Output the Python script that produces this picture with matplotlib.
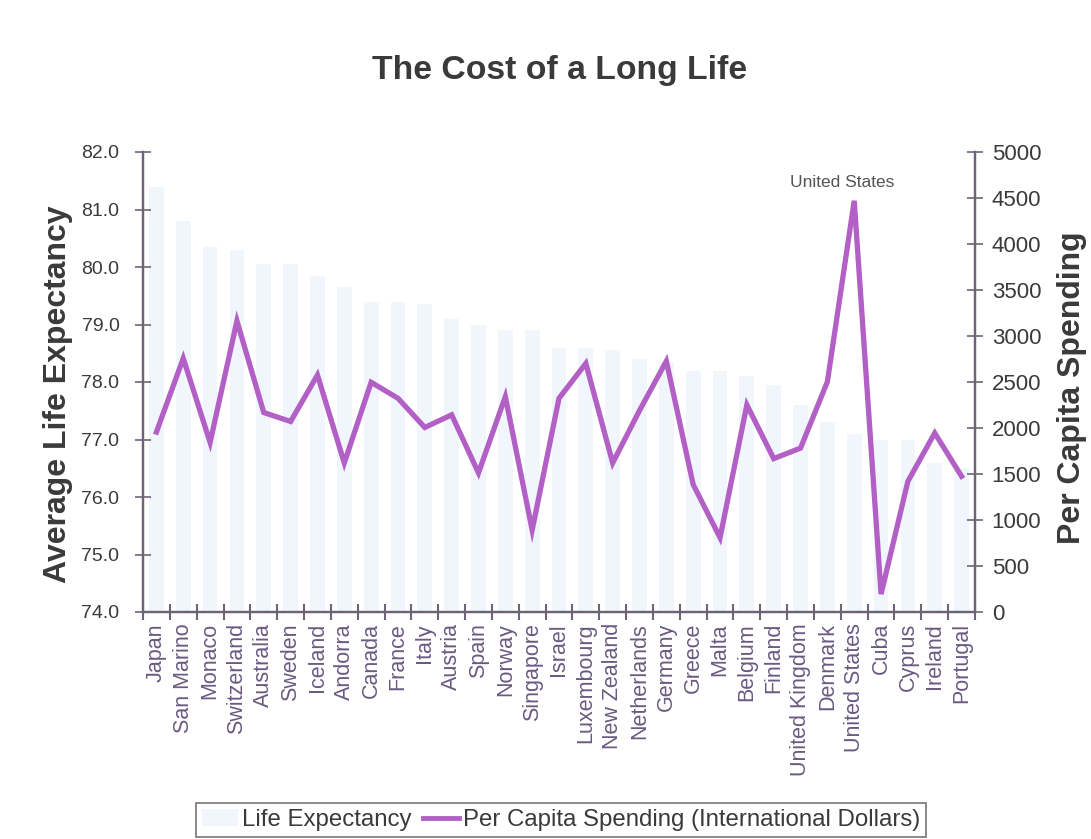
import matplotlib
matplotlib.use("Agg")
import matplotlib.pyplot as plt
from matplotlib.patches import Patch
from matplotlib.lines import Line2D

plt.rcParams["font.family"] = ["Liberation Sans", "DejaVu Sans"]

countries = ["Japan", "San Marino", "Monaco", "Switzerland", "Australia", "Sweden",
             "Iceland", "Andorra", "Canada", "France", "Italy", "Austria", "Spain",
             "Norway", "Singapore", "Israel", "Luxembourg", "New Zealand", "Netherlands",
             "Germany", "Greece", "Malta", "Belgium", "Finland", "United Kingdom",
             "Denmark", "United States", "Cuba", "Cyprus", "Ireland", "Portugal"]
life_expectancy = [81.4, 80.8, 80.35, 80.3, 80.05, 80.05, 79.85, 79.65, 79.4, 79.4,
                   79.35, 79.1, 79.0, 78.9, 78.9, 78.6, 78.6, 78.55, 78.4, 78.35,
                   78.2, 78.2, 78.1, 77.95, 77.6, 77.3, 77.1, 77.0, 77.0, 76.6, 76.5]
spending = [1956, 2757, 1843, 3164, 2168, 2071, 2576, 1620, 2497, 2323,
            2006, 2143, 1512, 2341, 891, 2323, 2702, 1620, 2190, 2727,
            1385, 808, 2251, 1667, 1782, 2503, 4470, 195, 1421, 1945, 1475]

W, H, DPI = 1091, 839, 100
fig = plt.figure(figsize=(W / DPI, H / DPI), dpi=DPI)
fig.patch.set_facecolor("white")
ax = fig.add_axes([143 / W, 1 - 612 / H, (975 - 143) / W, (612 - 152) / H])
ax2 = ax.twinx()

axis_col = "#6e6478"
text_col = "#3a3a3a"
label_col = "#6a5a82"
bar_col = "#f1f5fc"
line_col = "#b25fc6"

x = list(range(len(countries)))
ax.bar(x, life_expectancy, width=0.55, color=bar_col, zorder=1)
ax.set_ylim(74, 82)
ax.set_xlim(-0.5, len(countries) - 0.5)
ax.set_yticks([74 + i for i in range(9)])
ax.set_yticklabels([f"{74 + i:.1f}" for i in range(9)], fontsize=14, color=text_col)
ax.set_xticks(x)
ax.set_xticklabels(countries, rotation=90, fontsize=15.5, color=label_col)
ax.set_xticks([i + 0.5 for i in range(-1, len(countries))], minor=True)
ax.tick_params(axis="x", which="major", length=0, pad=8)
ax.tick_params(axis="x", which="minor", length=12, direction="inout", color=axis_col, width=1.5)
ax.tick_params(axis="y", length=12, direction="inout", color=axis_col, width=1.2, pad=11)
ax.set_ylabel("Average Life Expectancy", fontsize=23, fontweight="bold", color=text_col)
ax.yaxis.set_label_coords(-0.084, 0.473)

ax2.plot(x, spending, color=line_col, lw=3.8, zorder=3, solid_joinstyle="miter")
ax2.set_ylim(0, 5000)
ax2.set_yticks(range(0, 5001, 500))
ax2.set_yticklabels([str(v) for v in range(0, 5001, 500)], fontsize=16, color=text_col)
ax2.tick_params(axis="y", length=12, direction="inout", color=axis_col, width=1.2, pad=6)
ax2.set_ylabel("Per Capita Spending", fontsize=23, fontweight="bold", color=text_col)
ax2.yaxis.set_label_coords(1.099, 0.488)

us = countries.index("United States")
ax2.annotate("United States", (us, spending[us]), xytext=(-9, 8), textcoords="offset points",
             ha="center", va="bottom", fontsize=12.5, color="#555555")

for a in (ax, ax2):
    a.spines["top"].set_visible(False)
    for s in ("left", "right", "bottom"):
        a.spines[s].set_color(axis_col)
        a.spines[s].set_linewidth(1.6)
ax.set_zorder(ax2.get_zorder() - 1)
ax2.patch.set_visible(False)

fig.text(560 / W, 1 - 70 / H, "The Cost of a Long Life", ha="center", va="center",
         fontsize=24.3, fontweight="bold", color=text_col)

handles = [Patch(facecolor=bar_col, edgecolor="none"),
           Line2D([0], [0], color=line_col, lw=3.5)]
leg = fig.legend(handles, ["Life Expectancy", "Per Capita Spending (International Dollars)"],
                 loc="center", bbox_to_anchor=(561 / W, 1 - 820 / H), ncol=2,
                 fontsize=17.3, frameon=True, fancybox=False, handlelength=1.5,
                 columnspacing=0.5, handletextpad=0.15, borderpad=0.25)
leg.get_frame().set_edgecolor("#555555")
leg.get_frame().set_linewidth(1.2)
for t in leg.get_texts():
    t.set_color(text_col)

fig.savefig("out.png", dpi=DPI, facecolor="white")
